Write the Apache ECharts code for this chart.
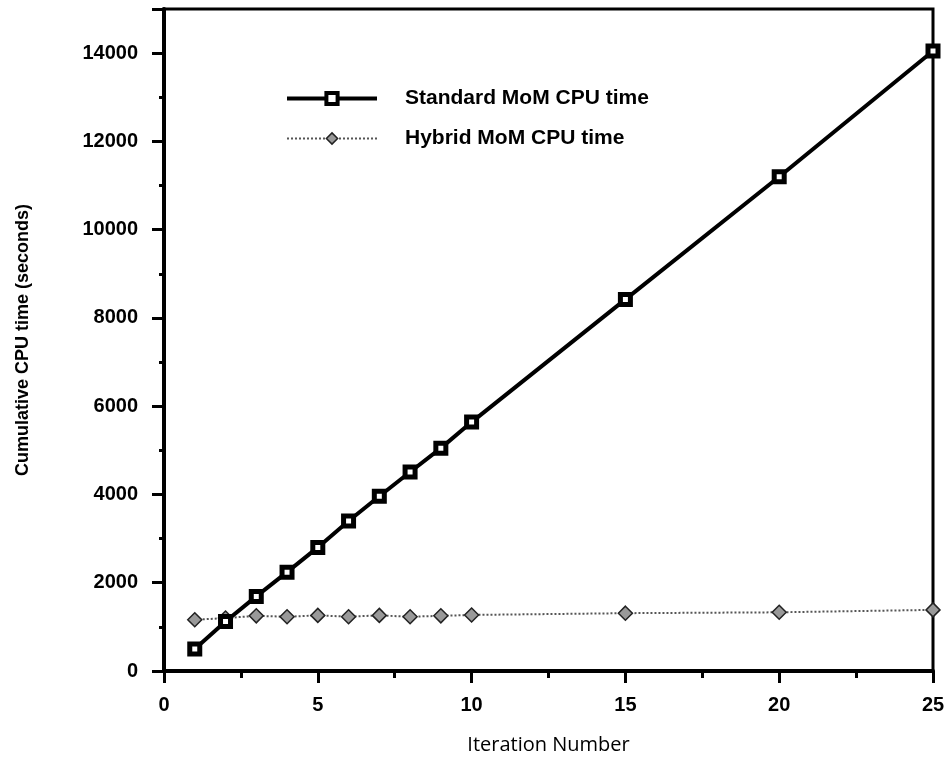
<!DOCTYPE html>
<html>
<head>
<meta charset="utf-8">
<script src="https://cdn.jsdelivr.net/npm/echarts@6/dist/echarts.min.js"></script>
<style>
  html, body { margin: 0; padding: 0; background: #fff; }
  #chart { width: 950px; height: 766px; }
</style>
</head>
<body>
<div id="chart"></div>
<script>
// iteration numbers
var iterations = [1, 2, 3, 4, 5, 6, 7, 8, 9, 10, 15, 20, 25]
// cumulative CPU time (seconds)
var standardCpu = [500, 1120, 1690, 2240, 2800, 3400, 3960, 4510, 5050, 5640, 8420, 11200, 14050]
var hybridCpu = [1160, 1200, 1250, 1230, 1260, 1230, 1260, 1230, 1250, 1270, 1310, 1330, 1385]

var seriesNames = ['Standard MoM CPU time', 'Hybrid MoM CPU time']

function pairs(xs, ys) {
  return xs.map(function (x, i) { return [x, ys[i]] })
}

var chart = echarts.init(document.getElementById('chart'))

var boldFont = 'Liberation Sans, Arial, sans-serif'

chart.setOption({
  animation: false,
  backgroundColor: '#fff',
  grid: {
    left: 164,
    right: 17,
    top: 9,
    bottom: 95,
    show: true,
    borderColor: '#000',
    borderWidth: 3,
    outerBoundsMode: 'none'
  },
  legend: {
    orient: 'vertical',
    left: 280,
    top: 83,
    itemWidth: 90,
    itemHeight: 14,
    itemGap: 19,
    data: [
      {
        name: seriesNames[0],
        itemStyle: { color: '#fff', borderColor: '#000', borderWidth: 4 },
        lineStyle: { width: 4, color: '#000' }
      },
      {
        name: seriesNames[1],
        itemStyle: { color: '#999', borderColor: '#222', borderWidth: 1.5 },
        lineStyle: { width: 2, color: '#555', type: 'dotted' }
      }
    ],
    textStyle: {
      color: '#000',
      fontFamily: boldFont,
      fontWeight: 'bold',
      fontSize: 21,
      padding: [0, 0, 0, 23]
    }
  },
  xAxis: {
    type: 'value',
    min: 0,
    max: 25,
    interval: 5,
    name: 'Iteration Number',
    nameLocation: 'middle',
    nameGap: 64,
    nameTextStyle: {
      color: '#000',
      fontFamily: 'Open Sans, DejaVu Sans, sans-serif',
      fontSize: 20
    },
    axisLine: { lineStyle: { color: '#000', width: 4 } },
    axisTick: { length: 12, lineStyle: { color: '#000', width: 3 } },
    minorTick: { show: true, splitNumber: 2, length: 7, lineStyle: { color: '#000', width: 3 } },
    splitLine: { show: false },
    axisLabel: {
      margin: 24,
      color: '#000',
      fontFamily: boldFont,
      fontWeight: 'bold',
      fontSize: 20
    }
  },
  yAxis: {
    type: 'value',
    min: 0,
    max: 15000,
    interval: 2000,
    name: 'Cumulative CPU time (seconds)',
    nameLocation: 'middle',
    nameGap: 132,
    nameTextStyle: {
      color: '#000',
      fontFamily: boldFont,
      fontWeight: 'bold',
      fontSize: 18
    },
    axisLine: { lineStyle: { color: '#000', width: 4 } },
    axisTick: { length: 12, lineStyle: { color: '#000', width: 3 } },
    minorTick: { show: true, splitNumber: 2, length: 5, lineStyle: { color: '#000', width: 3 } },
    splitLine: { show: false },
    axisLabel: {
      margin: 26,
      showMaxLabel: false,
      color: '#000',
      fontFamily: boldFont,
      fontWeight: 'bold',
      fontSize: 20,
      formatter: function (v) { return String(v) }
    }
  },
  series: [
    {
      name: seriesNames[0],
      type: 'line',
      data: pairs(iterations, standardCpu),
      symbol: 'rect',
      symbolSize: 10,
      lineStyle: { color: '#000', width: 4 },
      itemStyle: { color: '#fff', borderColor: '#000', borderWidth: 5 },
      z: 3
    },
    {
      name: seriesNames[1],
      type: 'line',
      data: pairs(iterations, hybridCpu),
      symbol: 'diamond',
      symbolSize: 14,
      lineStyle: { color: '#555', width: 2, type: 'dotted' },
      itemStyle: { color: '#999', borderColor: '#222', borderWidth: 1.5 },
      z: 2
    }
  ]
})
</script>
</body>
</html>
